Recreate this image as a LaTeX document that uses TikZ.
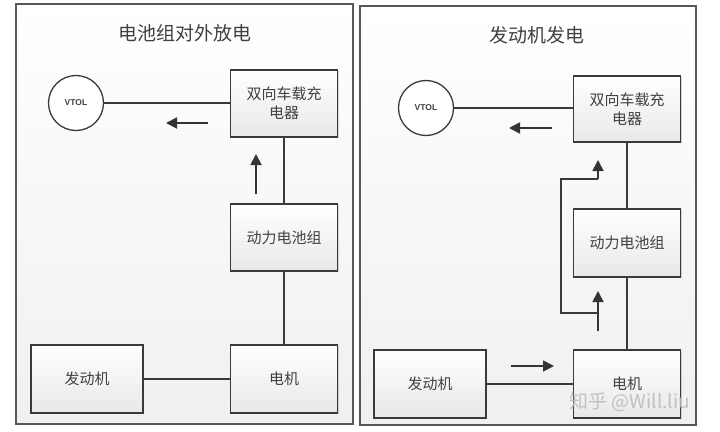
\documentclass[tikz,border=0pt]{standalone}
\usepackage{fontspec}
\newfontfamily\cjk{Noto Sans CJK SC}
\newfontfamily\lat{Liberation Sans}
\usetikzlibrary{arrows.meta,shadows}
\definecolor{ln}{HTML}{3A3A3A}
\definecolor{tx}{HTML}{404040}
\tikzset{
  panel/.style={draw=ln!85, line width=1.4pt, top color=white, bottom color=gray!12, drop shadow={shadow xshift=1pt,shadow yshift=-1pt,opacity=0.25}},
  blk/.style={draw=ln, line width=1.5pt, top color=white, bottom color=gray!18, minimum width=107pt, text=tx, font=\cjk\fontsize{15}{19}\selectfont, align=center, inner sep=0pt, drop shadow={shadow xshift=1pt,shadow yshift=-1pt,opacity=0.3}},
  circ/.style={circle, draw=ln, line width=1.3pt, fill=white, minimum size=55pt, inner sep=0pt, text=tx, font=\lat\fontsize{8.5}{10}\selectfont\bfseries},
  wire/.style={draw=ln, line width=2pt},
  flow/.style={draw=ln!90!black, line width=1.8pt, -{Triangle[length=11pt,width=11pt]}},
  ttl/.style={text=tx, font=\cjk\fontsize{19}{23}\selectfont}
}
\begin{document}
\begin{tikzpicture}[x=1pt,y=-1pt]
\useasboundingbox (0,0) rectangle (720,431);
\fill[white] (0,0) rectangle (720,431);
% panels
\path[panel] (16,4) rectangle (353,424);
\path[panel] (360,6) rectangle (696,425);
\node[ttl] (t1) at (185,33) {电池组对外放电};
\node[ttl] (t2) at (537,35) {发动机发电};
% left panel
\node[circ] (v1) at (76,103) {VTOL};
\node[blk, minimum height=67pt] (c1) at (284,103.5) {双向车载充\\电器};
\node[blk, minimum height=67pt] (b1) at (284,237.5) {动力电池组};
\node[blk, minimum height=68pt] (m1) at (284,379) {电机};
\node[blk, minimum height=68pt, minimum width=112pt] (e1) at (87,379) {发动机};
\draw[wire] (c1.west |- v1) -- (v1.east);
\draw[wire] (c1.south) -- (b1.north);
\draw[wire] (b1.south) -- (m1.north);
\draw[wire] (e1.east) -- (m1.west);
\coordinate (a1s) at (208,123); \coordinate (a1e) at (166,123);
\draw[flow] (a1s) -- (a1e);
\coordinate (a2s) at (256,194); \coordinate (a2e) at (256,154);
\draw[flow] (a2s) -- (a2e);
% right panel
\node[circ] (v2) at (426,108) {VTOL};
\node[blk, minimum height=66pt] (c2) at (627,109) {双向车载充\\电器};
\node[blk, minimum height=68pt] (b2) at (627,243) {动力电池组};
\node[blk, minimum height=68pt] (m2) at (627,384) {电机};
\node[blk, minimum height=68pt, minimum width=112pt] (e2) at (430,384) {发动机};
\draw[wire] (c2.west |- v2) -- (v2.east);
\draw[wire] (c2.south) -- (b2.north);
\draw[wire] (b2.south) -- (m2.north);
\draw[wire] (e2.east) -- (e2.east -| m2.west);
\coordinate (a3s) at (552,128); \coordinate (a3e) at (509,128);
\draw[flow] (a3s) -- (a3e);
\coordinate (a4s) at (511,366); \coordinate (a4e) at (554,366);
\draw[flow] (a4s) -- (a4e);
\coordinate (a5s) at (598,331); \coordinate (a5e) at (598,291);
\draw[flow] (a5s) -- (a5e);
\coordinate (p1) at (598,313); \coordinate (p2) at (561,313);
\coordinate (p3) at (561,179); \coordinate (p4) at (598,179);
\coordinate (p5) at (598,160);
\draw[wire] (p1) -- (p2) -- (p3) -- (p4);
\draw[flow] (p4) -- (p5);
% watermark
\node[text=gray!55, opacity=0.85, font=\cjk\fontsize{19}{22}\selectfont, anchor=west] (wm) at (566,402) {知乎 @Will.liu};
\end{tikzpicture}
\end{document}
